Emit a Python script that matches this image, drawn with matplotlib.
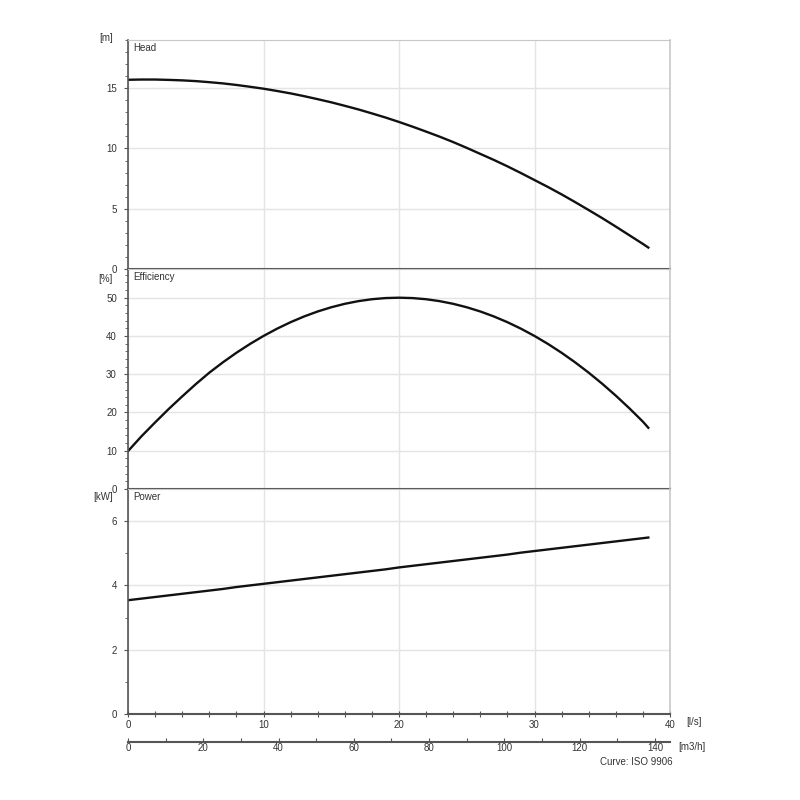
import numpy as np
import matplotlib.pyplot as plt
from matplotlib.ticker import MultipleLocator

plt.rcParams['font.family'] = ['Liberation Sans', 'DejaVu Sans']

# flow in l/s
flow = [0, 1, 2, 3, 4, 5, 6, 7, 8, 9, 10, 11, 12, 13, 14, 15, 16, 17, 18, 19,
        20, 21, 22, 23, 24, 25, 26, 27, 28, 29, 30, 31, 32, 33, 34, 35, 36, 37, 38, 38.4]
head = [15.70, 15.72, 15.72, 15.69, 15.65, 15.59, 15.50, 15.40, 15.27, 15.12,
        14.96, 14.77, 14.57, 14.34, 14.09, 13.83, 13.54, 13.24, 12.91, 12.57,
        12.20, 11.81, 11.40, 10.98, 10.53, 10.05, 9.55, 9.05, 8.52, 7.96,
        7.38, 6.80, 6.19, 5.55, 4.89, 4.22, 3.52, 2.80, 2.08, 1.78]
efficiency = [9.9, 13.8, 17.4, 20.9, 24.2, 27.4, 30.4, 33.1, 35.6, 37.9,
              40.0, 41.9, 43.6, 45.1, 46.4, 47.5, 48.4, 49.1, 49.6, 49.9,
              50.0, 49.9, 49.6, 49.1, 48.4, 47.5, 46.4, 45.1, 43.6, 41.9,
              40.0, 37.9, 35.6, 33.1, 30.4, 27.5, 24.4, 21.1, 17.6, 16.0]
power = [3.54, 3.59, 3.64, 3.69, 3.74, 3.79, 3.84, 3.89, 3.95, 4.00,
         4.05, 4.10, 4.15, 4.20, 4.25, 4.30, 4.35, 4.40, 4.45, 4.50,
         4.56, 4.61, 4.66, 4.71, 4.76, 4.81, 4.86, 4.91, 4.96, 5.02,
         5.07, 5.12, 5.17, 5.22, 5.27, 5.32, 5.37, 5.42, 5.47, 5.49]

panels = [
    ("Head", "[m]", head, 19.0, 5, 1),
    ("Efficiency", "[%]", efficiency, 57.5, 10, 2),
    ("Power", "[kW]", power, 7.0, 2, 1),
]

fig = plt.figure(figsize=(8, 8), dpi=100)
left, width = 0.16, 0.6775
boxes = [(0.66375, 0.28625), (0.38875, 0.275), (0.1075, 0.28125)]
unit_y = [1.01, 0.955, 0.965]

dark = "#555555"
light = "#c8c8c8"
text_col = "#333333"
axes = []
for (title, unit, values, ymax, major, minor), (bottom, height), uy in zip(panels, boxes, unit_y):
    ax = fig.add_axes([left, bottom, width, height])
    ax.plot(flow, values, color="#111111", linewidth=1.7)
    ax.set_xlim(0, 40)
    ax.set_ylim(0, ymax)
    ax.yaxis.set_major_locator(MultipleLocator(major))
    ax.yaxis.set_minor_locator(MultipleLocator(minor))
    ax.xaxis.set_major_locator(MultipleLocator(10))
    ax.xaxis.set_minor_locator(MultipleLocator(2))
    ax.grid(True, which="major", color="#e4e4e4", linewidth=1)
    ax.set_axisbelow(True)
    ax.tick_params(axis="y", which="major", direction="out", length=3, width=0.8,
                   color=dark, labelsize=7, labelcolor=text_col, pad=5)
    ax.tick_params(axis="y", which="minor", direction="out", length=2, width=0.6, color=dark)
    ax.tick_params(axis="x", which="both", direction="inout", length=4, width=0.8,
                   color=dark, labelsize=7, labelcolor=text_col, pad=2)
    ax.spines["left"].set_color(dark)
    ax.spines["left"].set_linewidth(1.2)
    ax.spines["bottom"].set_color(dark)
    ax.spines["bottom"].set_linewidth(1.5)
    ax.spines["top"].set_color(light)
    ax.spines["right"].set_color(light)
    ax.spines["right"].set_linewidth(1.2)
    ax.text(0.01, 0.985, title, transform=ax.transAxes, fontsize=7, color=text_col,
            ha="left", va="top")
    ax.text(-0.028, uy, unit, transform=ax.transAxes, fontsize=7, color=text_col,
            ha="right", va="center")
    axes.append(ax)

for ax in axes[:2]:
    ax.tick_params(axis="x", which="both", bottom=False, labelbottom=False)

ax_p = axes[2]
ax_p.tick_params(axis="x", which="both", bottom=True, labelbottom=True)
ax_p.text(1.03, -0.035, "[l/s]", transform=ax_p.transAxes, fontsize=7, color=text_col,
          ha="left", va="center")

sec = ax_p.secondary_xaxis(-0.124, functions=(lambda q: q * 3.6, lambda m: m / 3.6))
sec.xaxis.set_major_locator(MultipleLocator(20))
sec.xaxis.set_minor_locator(MultipleLocator(10))
sec.tick_params(axis="x", which="both", direction="in", length=3, width=0.8,
                color=dark, labelsize=7, labelcolor=text_col, pad=1)
sec.spines["bottom"].set_color(dark)
sec.spines["bottom"].set_linewidth(1.5)
ax_p.text(1.015, -0.145, "[m3/h]", transform=ax_p.transAxes, fontsize=7, color=text_col,
          ha="left", va="center")
ax_p.text(1.005, -0.213, "Curve: ISO 9906", transform=ax_p.transAxes, fontsize=7,
          color=text_col, ha="right", va="center")

fig.savefig("out.png", dpi=100, facecolor="white")
